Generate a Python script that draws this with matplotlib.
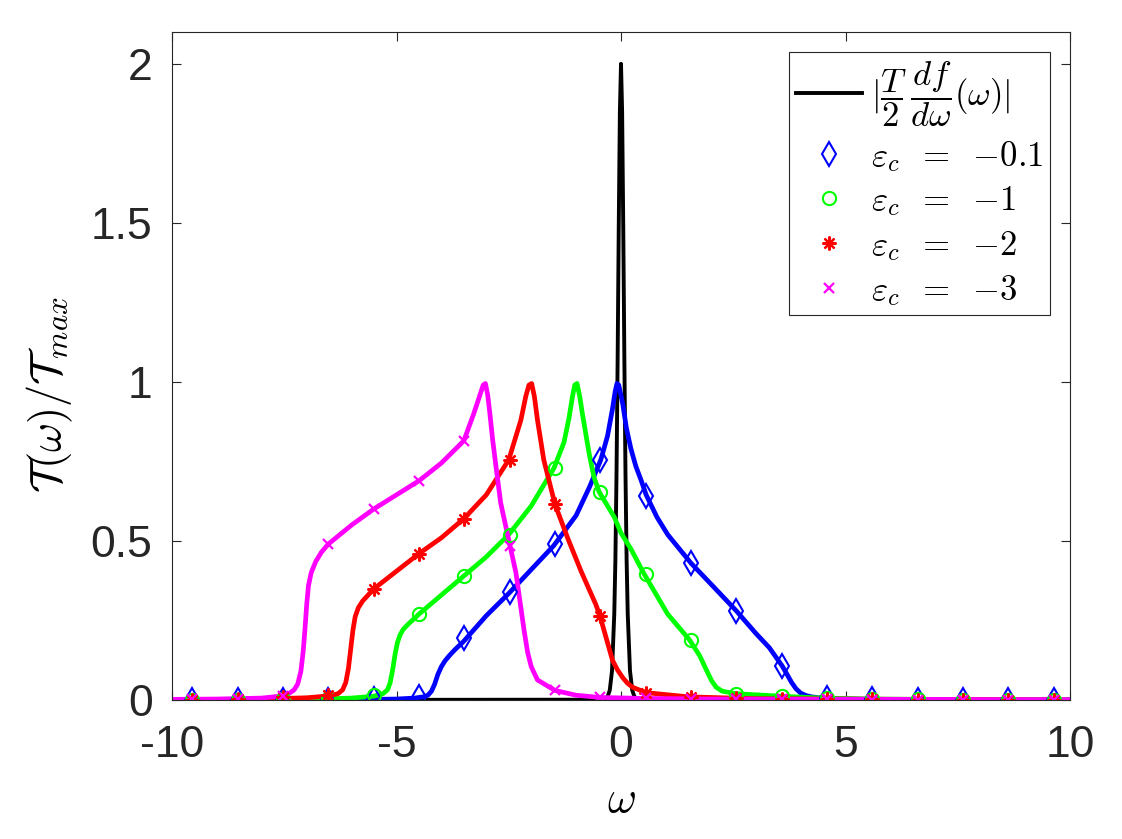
import matplotlib
matplotlib.use("Agg")
import matplotlib.pyplot as plt

plt.rcParams['mathtext.fontset'] = 'cm'
plt.rcParams['font.family'] = ['Liberation Sans', 'DejaVu Sans']
plt.rcParams['axes.unicode_minus'] = False

# thermal window |T/2 df/dw|
x_black = [-10, -0.4, -0.3, -0.25, -0.2, -0.15, -0.125, -0.1, -0.075, -0.05, -0.025, 0,
           0.025, 0.05, 0.075, 0.1, 0.125, 0.15, 0.2, 0.25, 0.3, 0.4, 10]
y_black = [0, 0.001, 0.01, 0.031, 0.092, 0.27, 0.44, 0.71, 1.07, 1.49, 1.85, 2.0,
           1.85, 1.49, 1.07, 0.71, 0.44, 0.27, 0.092, 0.031, 0.01, 0.001, 0]

# eps_c = -0.1
x_blue = [-10, -6, -5, -4.6, -4.4, -4.3, -4.22, -4.15, -4.08, -4.0, -3.92, -3.82, -3.7,
          -3.5, -3.0, -2.5, -2.0, -1.5, -1.0, -0.7, -0.45, -0.3, -0.19, -0.13, -0.09,
          -0.05, 0.04, 0.12, 0.22, 0.33, 0.45, 0.56, 0.8, 1.04, 1.56, 2.0, 2.57, 3.0, 3.3,
          3.59, 3.7, 3.8, 3.9, 4.0, 4.12, 4.24, 4.4, 4.6, 5.5, 10]
y_blue = [0, 0.001, 0.003, 0.006, 0.01, 0.015, 0.028, 0.05, 0.08, 0.105, 0.123, 0.14,
          0.158, 0.185, 0.265, 0.335, 0.41, 0.485, 0.58, 0.67, 0.755, 0.83, 0.915, 0.97,
          0.995, 0.99, 0.93, 0.855, 0.79, 0.735, 0.69, 0.645, 0.575, 0.52, 0.43, 0.365,
          0.28, 0.21, 0.165, 0.107, 0.08, 0.055, 0.035, 0.022, 0.014, 0.01, 0.007, 0.005,
          0.002, 0]

# eps_c = -1
x_green = [-10, -7, -6, -5.5, -5.3, -5.2, -5.14, -5.08, -5.03, -4.98, -4.92, -4.85, -4.75,
           -4.5, -4.0, -3.5, -3.0, -2.5, -2.0, -1.49, -1.27, -1.16, -1.08, -1.03, -0.98,
           -0.92, -0.86, -0.71, -0.6, -0.49, -0.15, 0, 0.22, 0.52, 1.04, 1.52, 1.75, 1.9,
           2.02, 2.12, 2.25, 2.55, 3.55, 4.5, 5.5, 10]
y_green = [0, 0.002, 0.006, 0.012, 0.02, 0.032, 0.055, 0.1, 0.145, 0.18, 0.205, 0.222,
           0.237, 0.27, 0.33, 0.39, 0.45, 0.52, 0.61, 0.73, 0.81, 0.885, 0.955, 0.99, 0.995,
           0.955, 0.9, 0.775, 0.70, 0.655, 0.575, 0.525, 0.475, 0.395, 0.27, 0.19, 0.14,
           0.095, 0.06, 0.04, 0.028, 0.02, 0.012, 0.006, 0.003, 0]

# eps_c = -2
x_red = [-10, -8, -7, -6.5, -6.3, -6.2, -6.13, -6.07, -6.02, -5.97, -5.92, -5.85, -5.75,
         -5.5, -5.0, -4.5, -4.0, -3.5, -3.0, -2.5, -2.23, -2.12, -2.05, -1.99, -1.93, -1.86,
         -1.72, -1.47, -1.19, -0.89, -0.56, -0.47, -0.3, -0.19, -0.08, 0.04, 0.15, 0.26,
         0.56, 1.5, 3, 10]
y_red = [0, 0.003, 0.007, 0.013, 0.02, 0.032, 0.055, 0.1, 0.16, 0.22, 0.262, 0.29, 0.312,
         0.35, 0.405, 0.46, 0.51, 0.57, 0.645, 0.755, 0.88, 0.955, 0.99, 0.995, 0.955, 0.88,
         0.755, 0.615, 0.51, 0.405, 0.30, 0.265, 0.18, 0.125, 0.095, 0.07, 0.052, 0.04,
         0.023, 0.01, 0.004, 0]

# eps_c = -3
x_mag = [-10, -9, -8, -7.6, -7.4, -7.28, -7.2, -7.13, -7.08, -7.04, -7.0, -6.96, -6.9,
         -6.8, -6.67, -6.52, -6.0, -5.51, -5.0, -4.49, -4.0, -3.5, -3.28, -3.15, -3.07,
         -3.02, -2.97, -2.92, -2.86, -2.79, -2.68, -2.48, -2.34, -2.25, -2.16, -2.08, -2.0,
         -1.86, -1.47, -1.0, -0.47, 0.5, 2, 10]
y_mag = [0.002, 0.003, 0.006, 0.012, 0.02, 0.032, 0.05, 0.09, 0.15, 0.22, 0.3, 0.36, 0.4,
         0.435, 0.465, 0.49, 0.55, 0.60, 0.645, 0.69, 0.745, 0.815, 0.90, 0.955, 0.99, 0.995,
         0.96, 0.9, 0.82, 0.74, 0.62, 0.49, 0.40, 0.31, 0.22, 0.15, 0.105, 0.063, 0.03,
         0.015, 0.008, 0.005, 0.003, 0.001]

# marker positions (same for every series)
x_mk = [-9.55, -8.54, -7.53, -6.52, -5.51, -4.5, -3.49, -2.48, -1.47, -0.46,
        0.55, 1.56, 2.57, 3.58, 4.59, 5.6, 6.61, 7.62, 8.63, 9.64]
mk_blue = [0, 0, 0, 0.001, 0.003, 0.008, 0.195, 0.34, 0.49, 0.755,
           0.64, 0.43, 0.28, 0.107, 0.005, 0.002, 0.001, 0, 0, 0]
mk_green = [0, 0.001, 0.002, 0.004, 0.015, 0.27, 0.39, 0.52, 0.73, 0.655,
            0.395, 0.19, 0.02, 0.012, 0.006, 0.003, 0.002, 0.001, 0, 0]
mk_red = [0.001, 0.003, 0.008, 0.015, 0.35, 0.46, 0.57, 0.755, 0.615, 0.265,
          0.023, 0.01, 0.006, 0.004, 0.003, 0.002, 0.001, 0.001, 0, 0]
mk_mag = [0.002, 0.004, 0.013, 0.49, 0.60, 0.69, 0.815, 0.485, 0.03, 0.008,
          0.005, 0.004, 0.003, 0.002, 0.002, 0.001, 0.001, 0.001, 0, 0]

labels = [r'$|\dfrac{T}{2}\,\dfrac{df}{d\omega}(\omega)|$',
          r'$\varepsilon_c\;\;=\;\;{-}0.1$', r'$\varepsilon_c\;\;=\;\;{-}1$',
          r'$\varepsilon_c\;\;=\;\;{-}2$', r'$\varepsilon_c\;\;=\;\;{-}3$']

fig = plt.figure(figsize=(11.22, 8.39), dpi=100)
ax = fig.add_axes([172/1122, 139/839, 898/1122, 668/839])

lw = 3.4
h0, = ax.plot(x_black, y_black, color='k', lw=2.8)
ax.plot(x_blue, y_blue, color='#0000ff', lw=lw)
ax.plot(x_green, y_green, color='#00ff00', lw=lw)
ax.plot(x_red, y_red, color='#ff0000', lw=lw)
ax.plot(x_mag, y_mag, color='#ff00ff', lw=lw)

h1, = ax.plot(x_mk, mk_blue, ls='none', marker='d', ms=12, mfc='none', mec='#0000ff', mew=1.5)
h2, = ax.plot(x_mk, mk_green, ls='none', marker='o', ms=9.5, mfc='none', mec='#00ff00', mew=1.5)
h3, = ax.plot(x_mk, mk_red, ls='none', marker=(8, 2, 0), ms=10, mec='#ff0000', mew=1.6)
h4, = ax.plot(x_mk, mk_mag, ls='none', marker='x', ms=7, mec='#ff00ff', mew=1.6)

ax.set_xlim(-10, 10)
ax.set_ylim(0, 2.1)
ax.set_xticks([-10, -5, 0, 5, 10])
ax.set_yticks([0, 0.5, 1, 1.5, 2])
ax.set_yticklabels(['0', '0.5', '1', '1.5', '2'])
ax.tick_params(direction='in', length=6.5, width=0.8, colors='#262626',
               labelsize=32, top=True, right=True)
ax.tick_params(axis='x', pad=18)
ax.tick_params(axis='y', pad=14)
for s in ax.spines.values():
    s.set_color('#262626')
    s.set_linewidth(0.8)

ax.set_xlabel(r'$\omega$', fontsize=32, va='center')
ax.set_ylabel(r'$\mathcal{T}(\omega)/\mathcal{T}_{max}$', fontsize=32, va='center')
ax.xaxis.set_label_coords(0.5, -0.15)
ax.yaxis.set_label_coords(-0.136, 0.457)

leg = ax.legend([h0, h1, h2, h3, h4], labels, loc='upper right',
                bbox_to_anchor=(0.978, 0.97), fontsize=25, handlelength=1.9,
                handletextpad=0.25, borderpad=0.2, labelspacing=0.3,
                borderaxespad=0, fancybox=False, framealpha=1, edgecolor='#262626')
leg.get_frame().set_linewidth(0.8)

fig.savefig('out.png', dpi=100)
